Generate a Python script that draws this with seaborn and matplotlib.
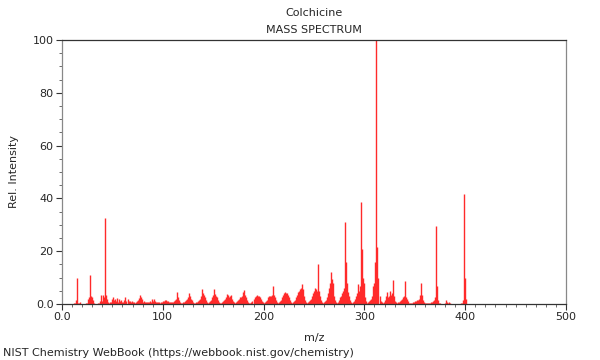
import matplotlib
matplotlib.use("Agg")
import matplotlib.pyplot as plt
import seaborn as sns
import pandas as pd
from matplotlib.ticker import MultipleLocator, FormatStrFormatter, FuncFormatter

title = "Colchicine"
subtitle = "MASS SPECTRUM"
xlabel = "m/z"
ylabel = "Rel. Intensity"
footer = "NIST Chemistry WebBook (https://webbook.nist.gov/chemistry)"

mz = [12, 13, 14, 15, 16, 17, 18,
      24, 25, 26, 27, 28, 29, 30, 31, 32,
      36, 37, 38, 39, 40, 41, 42, 43, 44, 45, 46,
      47, 48, 49, 50, 51, 52, 53, 54, 55, 56, 57, 58, 59, 60,
      61, 62, 63, 64, 65, 66, 67, 68, 69, 70, 71, 72, 73, 74, 75,
      76, 77, 78, 79, 80, 81, 82, 83, 84, 85, 86, 87, 88, 89, 90,
      91, 92, 93, 94, 95, 96, 97, 98, 99, 100, 101, 102, 103, 104, 105,
      106, 107, 108, 109, 110, 111, 112, 113, 114, 115, 116, 117, 118, 119, 120,
      121, 122, 123, 124, 125, 126, 127, 128, 129, 130, 131, 132, 133, 134, 135,
      136, 137, 138, 139, 140, 141, 142, 143, 144, 145, 146, 147, 148, 149, 150,
      151, 152, 153, 154, 155, 156, 157, 158, 159, 160, 161, 162, 163, 164, 165,
      166, 167, 168, 169, 170, 171, 172, 173, 174, 175, 176, 177, 178, 179, 180,
      181, 182, 183, 184, 185, 186, 187, 188, 189, 190, 191, 192, 193, 194, 195,
      196, 197, 198, 199, 200, 201, 202, 203, 204, 205, 206, 207, 208, 209, 210,
      211, 212, 213, 214, 215, 216, 217, 218, 219, 220, 221, 222, 223, 224, 225,
      226, 227, 228, 229, 230, 231, 232, 233, 234, 235, 236, 237, 238, 239, 240,
      241, 242, 243, 244, 245, 246, 247, 248, 249, 250, 251, 252, 253, 254, 255,
      256, 257, 258, 259, 260, 261, 262, 263, 264, 265, 266, 267, 268, 269, 270,
      271, 272, 273, 274, 275, 276, 277, 278, 279, 280, 281, 282, 283, 284, 285,
      286, 287, 288, 289, 290, 291, 292, 293, 294, 295, 296, 297, 298, 299, 300,
      301, 302, 303, 304, 305, 306, 307, 308, 309, 310, 311, 312, 313, 314, 315,
      316, 317, 318, 319, 320, 321, 322, 323, 324, 325, 326, 327, 328, 329, 330,
      331, 332, 333, 334, 335, 336, 337, 338, 339, 340, 341, 342, 343, 344, 345,
      346, 347, 348, 349, 350, 351, 352, 353, 354, 355, 356, 357, 358, 359, 360,
      361, 362, 363, 364, 365, 366, 367, 368, 369, 370, 371, 372, 373, 374, 375,
      380, 381, 382, 383, 384, 385,
      396, 397, 398, 399, 400, 401]

intensity = [0.3, 0.5, 1.5, 9.8, 0.5, 0.3, 0.8,
             0.3, 0.5, 1.8, 2.8, 11.0, 3.0, 2.5, 1.5, 0.5,
             0.3, 0.5, 1.2, 3.5, 1.2, 3.5, 2.8, 32.5, 3.5, 2.0, 0.8,
             0.5, 0.6, 0.8, 2.0, 2.8, 1.5, 2.0, 1.0, 2.2, 0.8, 1.8, 1.0, 1.4, 0.6,
             0.8, 1.5, 2.5, 1.0, 2.0, 1.2, 1.0, 0.6, 1.0, 0.6, 0.8, 0.5, 0.8, 1.2, 1.5,
             2.2, 3.5, 2.5, 2.0, 0.8, 1.0, 0.6, 0.8, 0.6, 0.8, 0.6, 1.2, 0.8, 1.8, 1.0,
             2.0, 1.0, 0.8, 0.6, 0.8, 0.6, 0.5, 0.6, 0.8, 1.0, 1.2, 1.5, 1.6, 1.2, 1.0,
             0.6, 0.8, 0.6, 0.6, 0.8, 1.0, 1.5, 2.0, 4.5, 2.5, 1.5, 0.8, 0.5, 0.5, 0.6,
             0.8, 1.0, 1.5, 2.0, 2.5, 4.2, 3.0, 2.0, 1.5, 0.8, 0.5, 0.5, 0.6, 0.8, 1.0,
             1.5, 2.0, 3.0, 5.5, 4.0, 3.5, 2.5, 1.5, 0.8, 0.5, 0.6, 1.0, 1.5, 2.5, 3.5,
             5.5, 3.8, 3.0, 2.5, 1.5, 0.8, 0.5, 0.5, 0.8, 1.0, 1.5, 2.0, 2.5, 3.8, 3.5,
             2.8, 3.0, 3.5, 2.0, 1.2, 0.6, 0.5, 0.6, 1.0, 1.5, 2.0, 2.5, 2.8, 3.0, 4.5,
             5.3, 3.5, 2.5, 1.5, 0.8, 0.5, 0.5, 0.8, 1.2, 1.8, 2.5, 3.0, 3.5, 3.2, 3.0,
             2.5, 2.0, 1.2, 0.6, 0.5, 0.6, 1.0, 1.5, 2.5, 3.0, 3.2, 3.0, 3.5, 6.8, 3.5,
             2.5, 1.5, 0.8, 0.5, 0.6, 1.0, 1.5, 2.5, 3.5, 4.2, 4.5, 4.2, 4.0, 3.5, 2.5,
             1.5, 0.8, 0.5, 0.6, 1.0, 1.5, 2.5, 3.5, 4.5, 5.0, 5.5, 6.0, 7.4, 5.5, 3.0,
             1.5, 0.8, 0.5, 0.6, 1.0, 1.5, 2.0, 3.0, 4.0, 5.0, 6.0, 5.5, 5.0, 15.0, 5.0,
             3.0, 1.5, 0.8, 0.5, 0.6, 1.0, 1.5, 2.5, 4.0, 6.0, 8.0, 12.0, 9.5, 8.0, 3.0,
             1.5, 0.8, 0.5, 0.8, 1.5, 2.5, 3.0, 4.0, 5.0, 6.0, 31.0, 16.0, 8.0, 4.5, 3.0,
             1.5, 0.8, 0.5, 0.8, 1.0, 2.0, 3.0, 4.0, 7.5, 5.0, 7.0, 38.5, 21.0, 10.0, 8.0,
             2.5, 1.0, 0.5, 0.6, 1.0, 1.5, 2.0, 3.0, 7.0, 8.0, 16.0, 100.0, 21.5, 10.0, 3.0,
             1.2, 0.6, 0.5, 0.8, 1.5, 3.0, 4.5, 2.5, 3.0, 5.0, 3.5, 4.0, 9.0, 3.0, 1.2,
             0.6, 0.5, 0.6, 0.8, 1.0, 1.5, 2.0, 2.5, 3.0, 8.8, 2.5, 2.0, 1.0, 0.5, 0.4,
             0.4, 0.5, 0.6, 0.8, 1.0, 1.2, 1.5, 1.5, 2.0, 3.5, 7.8, 3.5, 1.5, 0.6, 0.4,
             0.3, 0.3, 0.3, 0.4, 0.5, 0.6, 0.8, 1.0, 1.5, 2.5, 29.5, 7.0, 1.5, 0.4, 0.3,
             0.5, 1.5, 0.8, 0.5, 0.6, 0.3,
             0.3, 0.5, 1.5, 41.7, 10.0, 2.0]

df = pd.DataFrame({"mz": mz, "intensity": intensity})

sns.set_theme(style="white")
plt.rcParams["font.family"] = ["DejaVu Sans"]

fig = plt.figure(figsize=(6.0, 3.6), dpi=100)
ax = fig.add_axes([0.1033, 0.1556, 0.84, 0.7333])

ax.vlines(df["mz"], 0, df["intensity"], color="#ff2a2a", linewidth=1.0)

ax.set_xlim(0, 500)
ax.set_ylim(0, 100)
ax.xaxis.set_major_locator(MultipleLocator(100))
ax.xaxis.set_minor_locator(MultipleLocator(10))
ax.yaxis.set_major_locator(MultipleLocator(20))
ax.yaxis.set_minor_locator(MultipleLocator(5))
ax.xaxis.set_major_formatter(FuncFormatter(lambda v, p: "0.0" if v == 0 else f"{int(v)}"))
ax.yaxis.set_major_formatter(FuncFormatter(lambda v, p: "0.0" if v == 0 else f"{int(v)}"))

ax.tick_params(axis="both", which="major", direction="out", length=4, width=0.8,
               color="#333333", labelsize=8, pad=2, bottom=True, left=True)
ax.tick_params(axis="both", which="minor", direction="out", length=2.5, width=0.6,
               color="#555555", bottom=True, left=True)

for s in ax.spines.values():
    s.set_visible(True)
    s.set_color("#333333")
    s.set_linewidth(0.9)
ax.spines["left"].set_color("#888888")
ax.spines["right"].set_color("#888888")

ax.set_xlabel(xlabel, fontsize=8, labelpad=8)
ax.set_ylabel(ylabel, fontsize=8, labelpad=10)

fig.text(0.5 * (0.1033 + 0.9433), 1 - 13 / 360, title, ha="center", va="center", fontsize=8)
fig.text(0.5 * (0.1033 + 0.9433), 1 - 30 / 360, subtitle, ha="center", va="center", fontsize=8)
fig.text(3 / 600, 1 - 353 / 360, footer, ha="left", va="center", fontsize=8)

fig.savefig("out.png", dpi=100)
